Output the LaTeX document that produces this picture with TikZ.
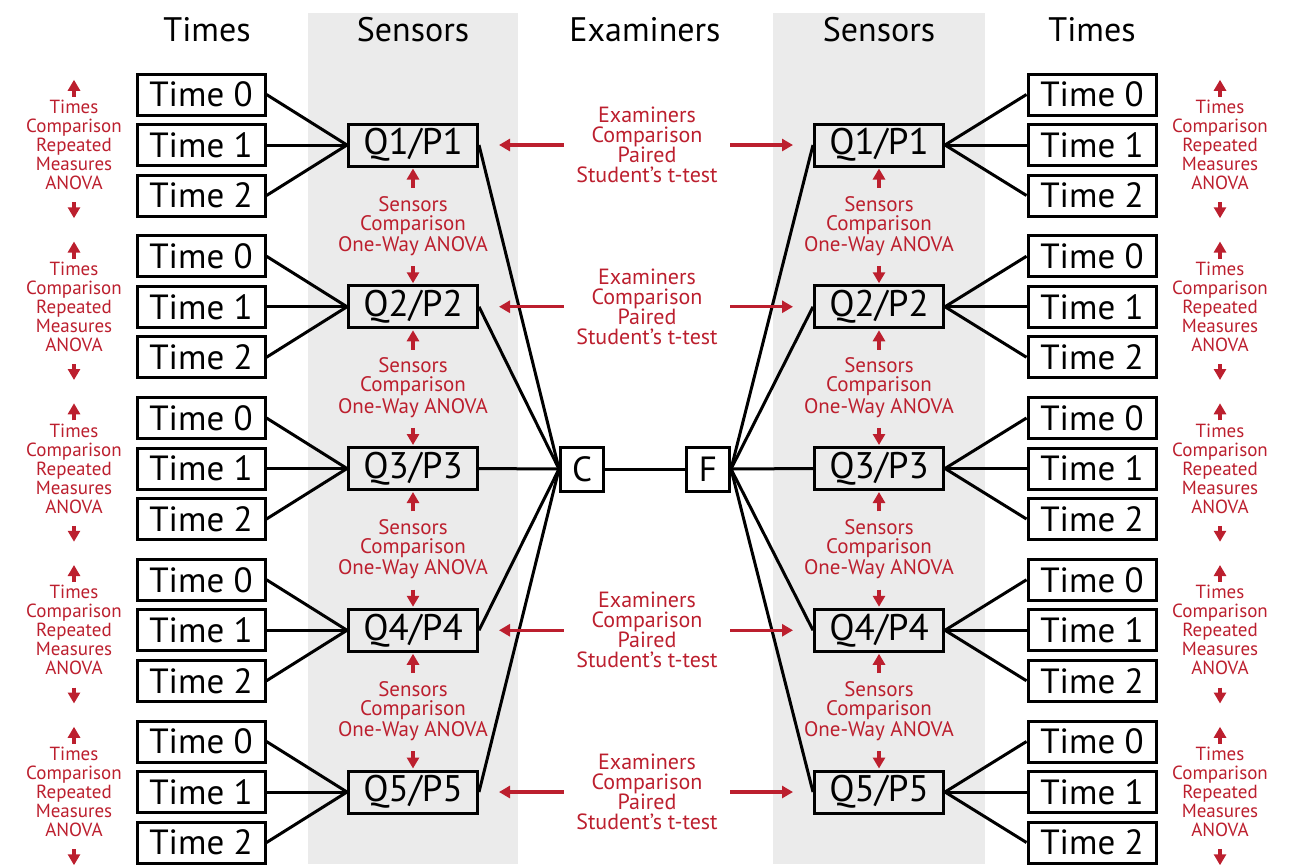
\documentclass[tikz,border=0pt]{standalone}
\usepackage{fontspec}
\setmainfont{PT Sans}
\usetikzlibrary{arrows.meta,positioning,backgrounds}
\definecolor{exRed}{HTML}{BC1F2E}
\definecolor{exBand}{HTML}{EBEBEB}

\begin{document}
\begin{tikzpicture}[x=0.5pt,y=-0.5pt,
  tb/.style={draw,fill=white,line width=1.5pt,minimum width=64pt,minimum height=20.5pt,
             inner sep=0pt,font=\fontsize{17.5}{18}\selectfont},
  qb/.style={tb,fill=exBand,minimum width=64.5pt,minimum height=21pt,font=\fontsize{18.5}{18}\selectfont},
  xb/.style={tb,minimum width=21.5pt,minimum height=22pt},
  hd/.style={font=\fontsize{17}{18}\selectfont},
  tt/.style={text=exRed,align=center,inner sep=0pt,font=\fontsize{9.5}{9.5}\selectfont},
  st/.style={text=exRed,align=center,inner sep=0pt,font=\fontsize{10.5}{9.5}\selectfont},
  et/.style={text=exRed,align=center,inner sep=0pt,font=\fontsize{11}{10}\selectfont},
  ln/.style={line width=1.5pt},
  ra/.style={-{Triangle[length=5.5pt,width=6pt]},exRed,line width=1.7pt}]
\useasboundingbox (0,0) rectangle (1295,864);
% grey sensor bands
\fill[exBand] (308,13) rectangle (518,864);
\fill[exBand] (773,13) rectangle (985,864);
% column heads
\node[hd] (hTl) at (207,30) {Times};
\node[hd] (hSl) at (413,30) {Sensors};
\node[hd] (hE) at (645,30) {Examiners};
\node[hd] (hSr) at (879,30) {Sensors};
\node[hd] (hTr) at (1092,30) {Times};
% examiners
\node[xb] (c) at (582,469) {C};
\node[xb] (f) at (708,469) {F};
\draw[ln] (c) -- (f);
\foreach \r in {1,...,5}{
  \pgfmathsetmacro\yy{145+161.75*(\r-1)}
  \node[qb] (ql\r) at (413,\yy) {Q\r/P\r};
  \node[qb] (qr\r) at (879,\yy) {Q\r/P\r};
  \draw[ln] (ql\r.east) -- (c.west);
  \draw[ln] (f.east) -- (qr\r.west);
  \foreach \t in {0,1,2}{
    \pgfmathsetmacro\ty{\yy-50.5+50.5*\t}
    \node[tb] (tl\r\t) at (201,\ty) {Time \t};
    \node[tb] (tr\r\t) at (1092,\ty) {Time \t};
    \draw[ln] (tl\r\t.east) -- (ql\r.west);
    \draw[ln] (qr\r.east) -- (tr\r\t.west);
  }
  % times comparison
  \node[tt] (ttl\r) at (74,\yy) {Times\\Comparison\\Repeated\\Measures\\ANOVA};
  \node[tt] (ttr\r) at (1220,\yy) {Times\\Comparison\\Repeated\\Measures\\ANOVA};
  \draw[ra] ([yshift=1.5pt]ttl\r.north) -- ++(0,-17);
  \draw[ra] ([yshift=-6pt]ttl\r.south) -- ++(0,16);
  \draw[ra] ([yshift=1.5pt]ttr\r.north) -- ++(0,-17);
  \draw[ra] ([yshift=-6pt]ttr\r.south) -- ++(0,16);
}
% sensors comparison
\foreach \r in {1,...,4}{
  \pgfmathtruncatemacro\nx{\r+1}
  \pgfmathsetmacro\yy{145+161.75*(\r-1)+80.9}
  \node[st] (sl\r) at (413,\yy) {Sensors\\Comparison\\One-Way ANOVA};
  \node[st] (sr\r) at (879,\yy) {Sensors\\Comparison\\One-Way ANOVA};
  \draw[ra,shorten <=4pt,shorten >=0.5pt] (sl\r.north) -- (ql\r.south);
  \draw[ra,shorten <=5pt,shorten >=0.5pt] (sl\r.south) -- (ql\nx.north);
  \draw[ra,shorten <=4pt,shorten >=0.5pt] (sr\r.north) -- (qr\r.south);
  \draw[ra,shorten <=5pt,shorten >=0.5pt] (sr\r.south) -- (qr\nx.north);
}
% examiners comparison
\foreach \r in {1,2,4,5}{
  \pgfmathsetmacro\yy{145+161.75*(\r-1)}
  \node[et] (ex\r) at (647,\yy) {Examiners\\Comparison\\Paired\\Student’s t-test};
  \draw[ra,shorten <=6pt,shorten >=10pt] (ex\r.west) -- (ql\r.east);
  \draw[ra,shorten <=6pt,shorten >=10pt] (ex\r.east) -- (qr\r.west);
}
\end{tikzpicture}
\end{document}
